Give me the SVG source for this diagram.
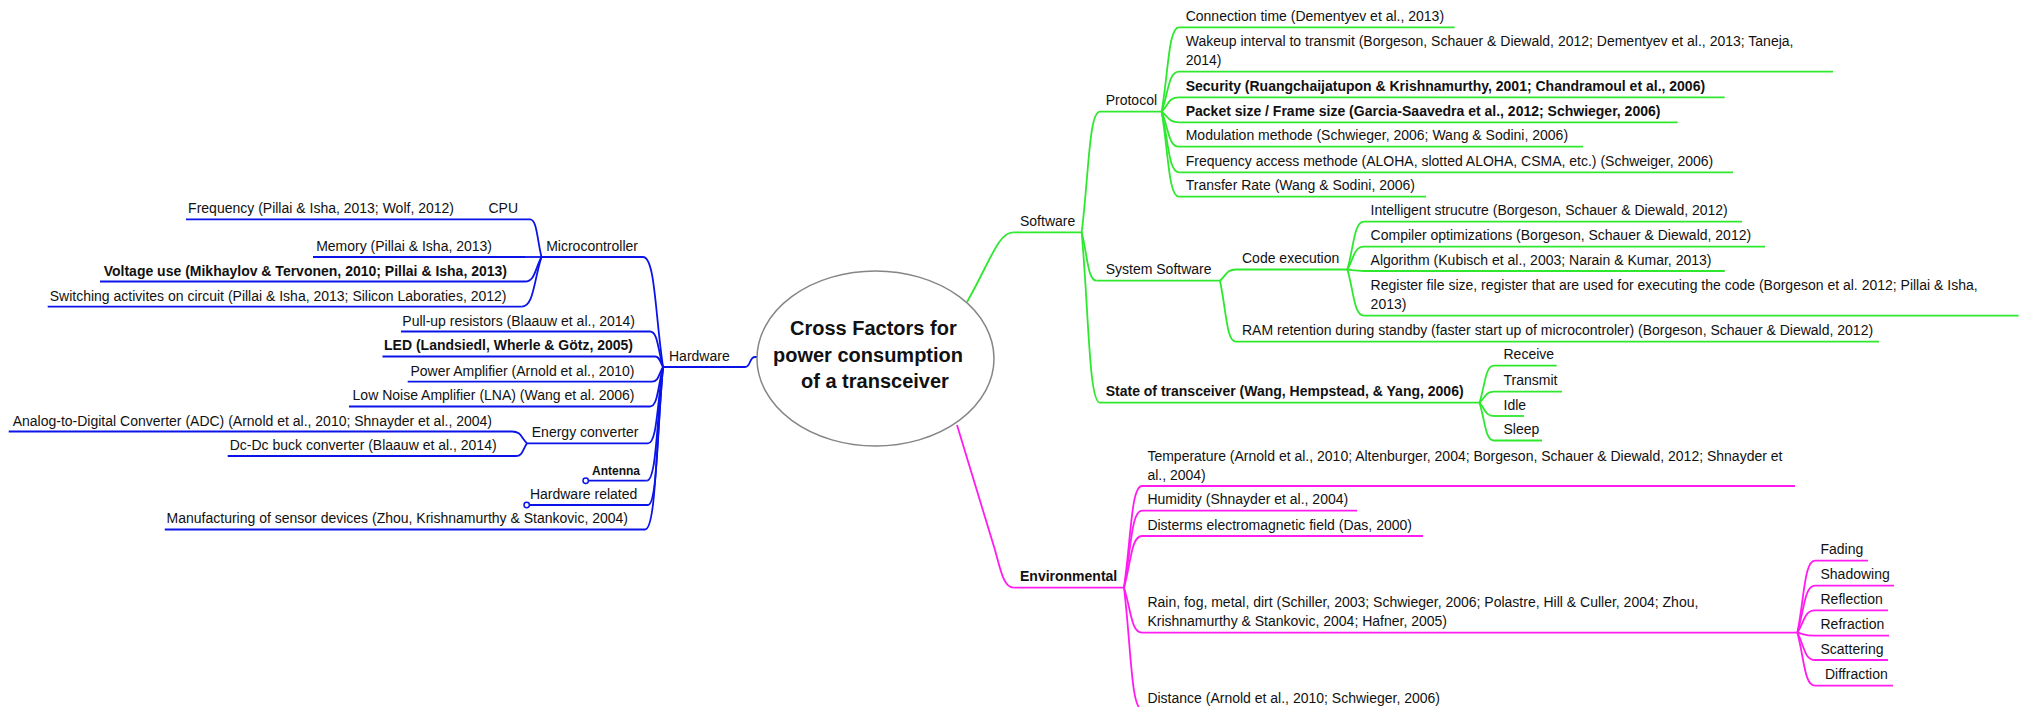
<svg xmlns="http://www.w3.org/2000/svg" width="2022" height="707" viewBox="0 0 2022 707">
<style>
.t{font-family:"Liberation Sans",Arial,sans-serif;font-size:14px;fill:#111}
.b{font-weight:bold}
.e{text-anchor:end}
.title{font-family:"Liberation Sans",Arial,sans-serif;font-size:20px;font-weight:bold;fill:#111}
.hw{stroke:#0a14e8;fill:none;stroke-width:1.8}
.sw{stroke:#2ee82e;fill:none;stroke-width:1.8}
.en{stroke:#ff1cf0;fill:none;stroke-width:1.8}
.dot{fill:#fff;stroke:#0a14e8;stroke-width:1.5}
</style>
<rect width="2022" height="707" fill="#fff"/>

<g id="connectors">
  <!-- hardware side -->
  <path class="hw" d="M745 367 C751 367 749 357 755 357 L758 357"/>
  <path class="hw" d="M643 257 C655 257 655 312 663 367"/>
  <path class="hw" d="M650 331.5 C657.8 331.5 657.8 349.25 663 367"/>
  <path class="hw" d="M655 356.5 C659.8 356.5 659.8 361.75 663 367"/>
  <path class="hw" d="M652 381.7 C658.6 381.7 658.6 374.35 663 367"/>
  <path class="hw" d="M650 406.5 C657.8 406.5 657.8 386.75 663 367"/>
  <path class="hw" d="M648 443.3 C657 443.3 657 405.15 663 367"/>
  <path class="hw" d="M646.7 480.7 C656.5 480.7 656.5 423.85 663 367"/>
  <path class="hw" d="M648 505 C657 505 657 436 663 367"/>
  <path class="hw" d="M645 529.5 C655.8 529.5 655.8 448.25 663 367"/>
  <path class="hw" d="M530 219.3 C536.9 219.3 536.9 238.15 541.5 257"/>
  <path class="hw" d="M525 257 L541.5 257"/>
  <path class="hw" d="M525 281.5 C534.9 281.5 534.9 269.25 541.5 257"/>
  <path class="hw" d="M521.7 306.7 C533.6 306.7 533.6 281.85 541.5 257"/>
  <path class="hw" d="M512 431.5 C521 431.5 521 437.4 527 443.3"/>
  <path class="hw" d="M516 456 C522.6 456 522.6 449.65 527 443.3"/>
  <!-- software side -->
  <path class="sw" d="M1013.3 232.3 C998 232.3 990 262 967 302"/>
  <path class="sw" d="M1100 111.7 C1089 111.7 1089 172 1081.7 232.3"/>
  <path class="sw" d="M1096.7 280.7 C1087.7 280.7 1087.7 256.5 1081.7 232.3"/>
  <path class="sw" d="M1100 402.7 C1089 402.7 1089 317.5 1081.7 232.3"/>
  <path class="sw" d="M1179 27.3 C1168.6 27.3 1168.6 69.5 1161.7 111.7"/>
  <path class="sw" d="M1179 71.7 C1168.6 71.7 1168.6 91.7 1161.7 111.7"/>
  <path class="sw" d="M1179 97.3 C1168.6 97.3 1168.6 104.5 1161.7 111.7"/>
  <path class="sw" d="M1179 122.3 C1168.6 122.3 1168.6 117 1161.7 111.7"/>
  <path class="sw" d="M1179 146.7 C1168.6 146.7 1168.6 129.2 1161.7 111.7"/>
  <path class="sw" d="M1179 172.3 C1168.6 172.3 1168.6 142 1161.7 111.7"/>
  <path class="sw" d="M1179 196.7 C1168.6 196.7 1168.6 154.2 1161.7 111.7"/>
  <path class="sw" d="M1236 269.5 C1226.4 269.5 1226.4 275.1 1220 280.7"/>
  <path class="sw" d="M1236 341.7 C1226.4 341.7 1226.4 311.2 1220 280.7"/>
  <path class="sw" d="M1364 221.7 C1354 221.7 1354 245.6 1347.4 269.5"/>
  <path class="sw" d="M1364 246.7 C1354 246.7 1354 258.1 1347.4 269.5"/>
  <path class="sw" d="M1364 271 C1354 271 1354 270.25 1347.4 269.5"/>
  <path class="sw" d="M1364 315.7 C1354 315.7 1354 292.6 1347.4 269.5"/>
  <path class="sw" d="M1494 365.7 C1485.3 365.7 1485.3 384.2 1479.5 402.7"/>
  <path class="sw" d="M1494 391.7 C1485.3 391.7 1485.3 397.2 1479.5 402.7"/>
  <path class="sw" d="M1494 416 C1485.3 416 1485.3 409.35 1479.5 402.7"/>
  <path class="sw" d="M1494 440.5 C1485.3 440.5 1485.3 421.6 1479.5 402.7"/>
  <!-- environmental side -->
  <path class="en" d="M1013.6 587.7 C1004 587.7 1001 572 995 550 L957 425"/>
  <path class="en" d="M1142 486 C1131.2 486 1131.2 536.85 1124 587.7"/>
  <path class="en" d="M1142 510.7 C1131.2 510.7 1131.2 549.2 1124 587.7"/>
  <path class="en" d="M1142 536 C1131.2 536 1131.2 561.85 1124 587.7"/>
  <path class="en" d="M1142 632.7 C1131.2 632.7 1131.2 610.2 1124 587.7"/>
  <path class="en" d="M1142 709.5 C1131.2 709.5 1131.2 648.6 1124 587.7"/>
  <path class="en" d="M1815 560.7 C1804.4 560.7 1804.4 596.7 1797.4 632.7"/>
  <path class="en" d="M1815 585.7 C1804.4 585.7 1804.4 609.2 1797.4 632.7"/>
  <path class="en" d="M1815 610.3 C1804.4 610.3 1804.4 621.5 1797.4 632.7"/>
  <path class="en" d="M1815 635.7 C1804.4 635.7 1804.4 634.2 1797.4 632.7"/>
  <path class="en" d="M1815 660 C1804.4 660 1804.4 646.35 1797.4 632.7"/>
  <path class="en" d="M1815 685.7 C1804.4 685.7 1804.4 659.2 1797.4 632.7"/>
</g>

<g id="center">
  <ellipse cx="875.5" cy="358.5" rx="118.5" ry="87.5" fill="#fff" stroke="#858585" stroke-width="1.5"/>
  <text class="title" x="790" y="335">Cross Factors for</text>
  <text class="title" x="773" y="362">power consumption</text>
  <text class="title" x="801" y="388">of a transceiver</text>
</g>

<!-- Hardware side -->
<g id="hardware"><text class="t" x="669" y="361">Hardware</text><path class="hw" d="M663 367H745"/></g>
<g id="microcontroller"><text class="t e" x="638" y="250.5">Microcontroller</text><path class="hw" d="M541.5 257H643"/></g>
<g id="cpu"><text class="t e" x="518" y="213">CPU</text><path class="hw" d="M464 219.3H530"/></g>
<g id="frequency"><text class="t e" x="454" y="213">Frequency (Pillai &amp; Isha, 2013; Wolf, 2012)</text><path class="hw" d="M186 219.3H464"/></g>
<g id="memory"><text class="t e" x="492" y="250.5">Memory (Pillai &amp; Isha, 2013)</text><path class="hw" d="M313 257H525"/></g>
<g id="voltage"><text class="t b e" x="507" y="275.5">Voltage use (Mikhaylov &amp; Tervonen, 2010; Pillai &amp; Isha, 2013)</text><path class="hw" d="M100 281.5H525"/></g>
<g id="switching"><text class="t e" x="506.5" y="300.5">Switching activites on circuit (Pillai &amp; Isha, 2013; Silicon Laboraties, 2012)</text><path class="hw" d="M47.7 306.7H521.7"/></g>
<g id="pullup"><text class="t e" x="635" y="325.5">Pull-up resistors (Blaauw et al., 2014)</text><path class="hw" d="M401 331.5H650"/></g>
<g id="led"><text class="t b e" x="633" y="350">LED (Landsiedl, Wherle &amp; Götz, 2005)</text><path class="hw" d="M382.5 356.5H655"/></g>
<g id="poweramp"><text class="t e" x="634.5" y="375.5">Power Amplifier (Arnold et al., 2010)</text><path class="hw" d="M407.7 381.7H652"/></g>
<g id="lna"><text class="t e" x="634.5" y="400">Low Noise Amplifier (LNA) (Wang et al. 2006)</text><path class="hw" d="M349 406.5H650"/></g>
<g id="adc"><text class="t e" x="492" y="425.5">Analog-to-Digital Converter (ADC) (Arnold et al., 2010; Shnayder et al., 2004)</text><path class="hw" d="M8.7 431.5H512"/></g>
<g id="energy"><text class="t e" x="638.4" y="436.8">Energy converter</text><path class="hw" d="M527 443.3H648"/></g>
<g id="dcdc"><text class="t e" x="496.6" y="450">Dc-Dc buck converter (Blaauw et al., 2014)</text><path class="hw" d="M227.7 456H516"/></g>
<g id="antenna"><text class="t b e" x="640" y="474.5" style="font-size:12px">Antenna</text><path class="hw" d="M588.4 480.7H646.7"/><circle class="dot" cx="585.7" cy="480.7" r="2.7"/></g>
<g id="hwrelated"><text class="t e" x="637.3" y="498.5">Hardware related</text><path class="hw" d="M529.4 505H648"/><circle class="dot" cx="526.7" cy="505" r="2.7"/></g>
<g id="manufacturing"><text class="t e" x="628" y="523">Manufacturing of sensor devices (Zhou, Krishnamurthy &amp; Stankovic, 2004)</text><path class="hw" d="M164.8 529.5H645"/></g>

<!-- Software side -->
<g id="software"><text class="t" x="1020" y="226">Software</text><path class="sw" d="M1013.3 232.3H1081.7"/></g>
<g id="protocol"><text class="t" x="1105.7" y="105.2">Protocol</text><path class="sw" d="M1100 111.7H1161.7"/></g>
<g id="connection"><text class="t" x="1185.7" y="20.8">Connection time (Dementyev et al., 2013)</text><path class="sw" d="M1179 27.3H1454.6"/></g>
<g id="wakeup"><text class="t" x="1185.7" y="46.2">Wakeup interval to transmit (Borgeson, Schauer &amp; Diewald, 2012; Dementyev et al., 2013; Taneja,</text><text class="t" x="1185.7" y="65.2">2014)</text><path class="sw" d="M1179 71.7H1833"/></g>
<g id="security"><text class="t b" x="1185.7" y="90.8">Security (Ruangchaijatupon &amp; Krishnamurthy, 2001; Chandramoul et al., 2006)</text><path class="sw" d="M1179 97.3H1724.7"/></g>
<g id="packet"><text class="t b" x="1185.7" y="115.8">Packet size / Frame size (Garcia-Saavedra et al., 2012; Schwieger, 2006)</text><path class="sw" d="M1179 122.3H1677.7"/></g>
<g id="modulation"><text class="t" x="1185.7" y="140.2">Modulation methode (Schwieger, 2006; Wang &amp; Sodini, 2006)</text><path class="sw" d="M1179 146.7H1583"/></g>
<g id="freqaccess"><text class="t" x="1185.7" y="165.8">Frequency access methode (ALOHA, slotted ALOHA, CSMA, etc.) (Schweiger, 2006)</text><path class="sw" d="M1179 172.3H1733"/></g>
<g id="transfer"><text class="t" x="1185.7" y="190.2">Transfer Rate (Wang &amp; Sodini, 2006)</text><path class="sw" d="M1179 196.7H1426"/></g>
<g id="syssoft"><text class="t" x="1105.7" y="274.2">System Software</text><path class="sw" d="M1096.7 280.7H1220"/></g>
<g id="codeexec"><text class="t" x="1242" y="263">Code execution</text><path class="sw" d="M1236 269.5H1347.4"/></g>
<g id="intelligent"><text class="t" x="1370.6" y="215.2">Intelligent strucutre (Borgeson, Schauer &amp; Diewald, 2012)</text><path class="sw" d="M1364 221.7H1742"/></g>
<g id="compiler"><text class="t" x="1370.6" y="240.2">Compiler optimizations (Borgeson, Schauer &amp; Diewald, 2012)</text><path class="sw" d="M1364 246.7H1765"/></g>
<g id="algorithm"><text class="t" x="1370.6" y="264.5">Algorithm (Kubisch et al., 2003; Narain &amp; Kumar, 2013)</text><path class="sw" d="M1364 271H1724.8"/></g>
<g id="register"><text class="t" x="1370.6" y="290.2">Register file size, register that are used for executing the code (Borgeson et al. 2012; Pillai &amp; Isha,</text><text class="t" x="1370.6" y="309.2">2013)</text><path class="sw" d="M1364 315.7H2018.6"/></g>
<g id="ram"><text class="t" x="1242" y="335.2">RAM retention during standby (faster start up of microcontroler) (Borgeson, Schauer &amp; Diewald, 2012)</text><path class="sw" d="M1236 341.7H1879"/></g>
<g id="state"><text class="t b" x="1105.7" y="396.2">State of transceiver (Wang, Hempstead, &amp; Yang, 2006)</text><path class="sw" d="M1100 402.7H1479.5"/></g>
<g id="receive"><text class="t" x="1503.5" y="359.2">Receive</text><path class="sw" d="M1494 365.7H1556.7"/></g>
<g id="transmit"><text class="t" x="1503.5" y="385.2">Transmit</text><path class="sw" d="M1494 391.7H1562"/></g>
<g id="idle"><text class="t" x="1503.5" y="409.5">Idle</text><path class="sw" d="M1494 416H1524"/></g>
<g id="sleep"><text class="t" x="1503.5" y="434">Sleep</text><path class="sw" d="M1494 440.5H1542"/></g>

<!-- Environmental side -->
<g id="environmental"><text class="t b" x="1020" y="581.2">Environmental</text><path class="en" d="M1013.6 587.7H1124"/></g>
<g id="temperature"><text class="t" x="1147.4" y="460.5">Temperature (Arnold et al., 2010; Altenburger, 2004; Borgeson, Schauer &amp; Diewald, 2012; Shnayder et</text><text class="t" x="1147.4" y="479.5">al., 2004)</text><path class="en" d="M1142 486H1795"/></g>
<g id="humidity"><text class="t" x="1147.4" y="504.2">Humidity (Shnayder et al., 2004)</text><path class="en" d="M1142 510.7H1357"/></g>
<g id="disterms"><text class="t" x="1147.4" y="529.5">Disterms electromagnetic field (Das, 2000)</text><path class="en" d="M1142 536H1423"/></g>
<g id="rain"><text class="t" x="1147.4" y="607.2">Rain, fog, metal, dirt (Schiller, 2003; Schwieger, 2006; Polastre, Hill &amp; Culler, 2004; Zhou,</text><text class="t" x="1147.4" y="626.2">Krishnamurthy &amp; Stankovic, 2004; Hafner, 2005)</text><path class="en" d="M1142 632.7H1797.4"/></g>
<g id="distance"><text class="t" x="1147.4" y="703">Distance (Arnold et al., 2010; Schwieger, 2006)</text><path class="en" d="M1142 709.5H1440"/></g>
<g id="fading"><text class="t" x="1820.5" y="554.2">Fading</text><path class="en" d="M1815 560.7H1868"/></g>
<g id="shadowing"><text class="t" x="1820.5" y="579.2">Shadowing</text><path class="en" d="M1815 585.7H1894"/></g>
<g id="reflection"><text class="t" x="1820.5" y="603.8">Reflection</text><path class="en" d="M1815 610.3H1888"/></g>
<g id="refraction"><text class="t" x="1820.5" y="629.2">Refraction</text><path class="en" d="M1815 635.7H1889"/></g>
<g id="scattering"><text class="t" x="1820.5" y="653.5">Scattering</text><path class="en" d="M1815 660H1888"/></g>
<g id="diffraction"><text class="t" x="1825" y="679.2">Diffraction</text><path class="en" d="M1815 685.7H1893"/></g>
</svg>
